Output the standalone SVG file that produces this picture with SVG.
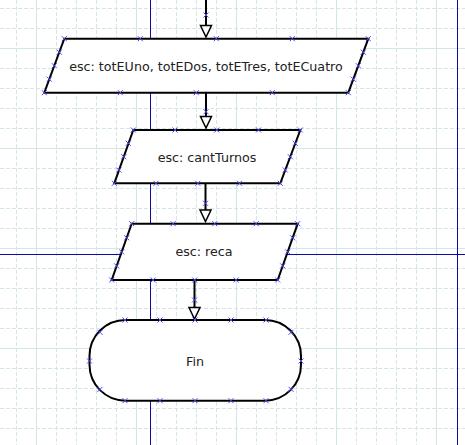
<svg xmlns="http://www.w3.org/2000/svg" xmlns:xlink="http://www.w3.org/1999/xlink" width="465" height="445" viewBox="0 0 465 445">
<style>
.gd{stroke:#d3e5e5;stroke-width:1;stroke-dasharray:4,2;fill:none}
.gs{stroke:#d3e5e5;stroke-width:1;fill:none}
.ax{stroke:#0a0aa8;stroke-width:1;fill:none}
.sh{fill:#fff;stroke:#000;stroke-width:2}
.cn{stroke:#000;stroke-width:2;fill:none}
.ah{fill:#fff;stroke:#000;stroke-width:1.5}
.t{font-family:"DejaVu Sans",sans-serif;font-size:12.7px;fill:#222;text-anchor:middle}
.mk{stroke:#4a4af0;stroke-width:1;fill:none}
</style>
<defs>
<path id="m" class="mk" d="M-2.5-2.5L2.5 2.5M-2.5 2.5L2.5-2.5"/>
</defs>
<rect width="465" height="445" fill="#fff"/>
<g id="grid">
<path class="gd" d="M16.5 0V445M56.5 0V445M76.5 0V445M96.5 0V445M116.5 0V445M156.5 0V445M176.5 0V445M196.5 0V445M216.5 0V445M256.5 0V445M276.5 0V445M296.5 0V445M316.5 0V445M356.5 0V445M376.5 0V445M396.5 0V445M416.5 0V445"/>
<path class="gd" d="M0 8.5H465M0 28.5H465M0 68.5H465M0 88.5H465M0 108.5H465M0 128.5H465M0 168.5H465M0 188.5H465M0 208.5H465M0 228.5H465M0 268.5H465M0 288.5H465M0 308.5H465M0 328.5H465M0 368.5H465M0 388.5H465M0 408.5H465M0 428.5H465"/>
<path class="gs" d="M36.5 0V445M136.5 0V445M236.5 0V445M336.5 0V445M436.5 0V445M0 48.5H465M0 148.5H465M0 248.5H465M0 348.5H465"/>
<path class="ax" d="M150.5 0V445M457.5 0V445M0 254.5H465"/>
</g>
<g id="connectors">
<path class="cn" d="M206 0V27"/>
<path class="ah" d="M200.5 25.5H211.5L206 37Z"/>
<path class="cn" d="M206 93V118"/>
<path class="ah" d="M200.5 116.5H211.5L206 128Z"/>
<path class="cn" d="M205.5 184V212"/>
<path class="ah" d="M200 210H211L205.5 221.5Z"/>
<path class="cn" d="M194.5 280V309"/>
<path class="ah" d="M189 307.5H200L194.5 319Z"/>
<use xlink:href="#m" x="206" y="15"/>
<use xlink:href="#m" x="206" y="111.7"/>
<use xlink:href="#m" x="205.5" y="203.3"/>
<use xlink:href="#m" x="194.5" y="300"/>
</g>
<g id="n1">
<path class="sh" d="M64.3 38.7H368.3L348.3 92.7H44.3Z"/>
<text class="t" x="206" y="70.5">esc: totEUno, totEDos, totETres, totECuatro</text>
<use xlink:href="#m" x="64.3" y="38.7"/><use xlink:href="#m" x="140.3" y="38.7"/><use xlink:href="#m" x="216.3" y="38.7"/><use xlink:href="#m" x="292.3" y="38.7"/><use xlink:href="#m" x="368.3" y="38.7"/>
<use xlink:href="#m" x="44.3" y="92.7"/><use xlink:href="#m" x="120.3" y="92.7"/><use xlink:href="#m" x="196.3" y="92.7"/><use xlink:href="#m" x="272.3" y="92.7"/><use xlink:href="#m" x="348.3" y="92.7"/>
<use xlink:href="#m" x="59.3" y="52.2"/><use xlink:href="#m" x="54.3" y="65.7"/><use xlink:href="#m" x="49.3" y="79.2"/>
<use xlink:href="#m" x="363.3" y="52.2"/><use xlink:href="#m" x="358.3" y="65.7"/><use xlink:href="#m" x="353.3" y="79.2"/>
</g>
<g id="n2">
<path class="sh" d="M133.3 130H300.3L280.3 183.3H114.3Z"/>
<text class="t" x="207" y="161.5">esc: cantTurnos</text>
<use xlink:href="#m" x="133.3" y="130"/><use xlink:href="#m" x="175" y="130"/><use xlink:href="#m" x="216.8" y="130"/><use xlink:href="#m" x="258.5" y="130"/><use xlink:href="#m" x="300.3" y="130"/>
<use xlink:href="#m" x="114.3" y="183.3"/><use xlink:href="#m" x="156" y="183.3"/><use xlink:href="#m" x="197.8" y="183.3"/><use xlink:href="#m" x="239.5" y="183.3"/><use xlink:href="#m" x="280.3" y="183.3"/>
<use xlink:href="#m" x="128.3" y="143.3"/><use xlink:href="#m" x="123.8" y="156.7"/><use xlink:href="#m" x="118.8" y="170"/>
<use xlink:href="#m" x="295.3" y="143.3"/><use xlink:href="#m" x="290.3" y="156.7"/><use xlink:href="#m" x="285.3" y="170"/>
</g>
<g id="n3">
<path class="sh" d="M131.7 223.7H297.7L277.7 280H111.7Z"/>
<text class="t" x="204" y="256.3">esc: reca</text>
<use xlink:href="#m" x="131.7" y="223.7"/><use xlink:href="#m" x="173.2" y="223.7"/><use xlink:href="#m" x="214.7" y="223.7"/><use xlink:href="#m" x="256.2" y="223.7"/><use xlink:href="#m" x="297.7" y="223.7"/>
<use xlink:href="#m" x="111.7" y="280"/><use xlink:href="#m" x="153.2" y="280"/><use xlink:href="#m" x="194.7" y="280"/><use xlink:href="#m" x="236.2" y="280"/><use xlink:href="#m" x="277.7" y="280"/>
<use xlink:href="#m" x="126.7" y="237.8"/><use xlink:href="#m" x="121.7" y="251.9"/><use xlink:href="#m" x="116.7" y="265.9"/>
<use xlink:href="#m" x="292.7" y="237.8"/><use xlink:href="#m" x="287.7" y="251.9"/><use xlink:href="#m" x="282.7" y="265.9"/>
</g>
<g id="n4">
<rect class="sh" x="89.5" y="320" width="211.5" height="80.7" rx="36" ry="36"/>
<text class="t" x="195" y="365.5">Fin</text>
<use xlink:href="#m" x="125" y="320"/><use xlink:href="#m" x="160" y="320"/><use xlink:href="#m" x="195" y="320"/><use xlink:href="#m" x="231" y="320"/><use xlink:href="#m" x="266" y="320"/>
<use xlink:href="#m" x="125" y="400.7"/><use xlink:href="#m" x="160" y="400.7"/><use xlink:href="#m" x="195" y="400.7"/><use xlink:href="#m" x="231" y="400.7"/><use xlink:href="#m" x="266" y="400.7"/>
<use xlink:href="#m" x="89.5" y="361"/><use xlink:href="#m" x="100" y="332.3"/><use xlink:href="#m" x="100" y="389.3"/>
<use xlink:href="#m" x="301" y="361"/><use xlink:href="#m" x="291" y="332.3"/><use xlink:href="#m" x="291" y="389.3"/>
</g>
</svg>
